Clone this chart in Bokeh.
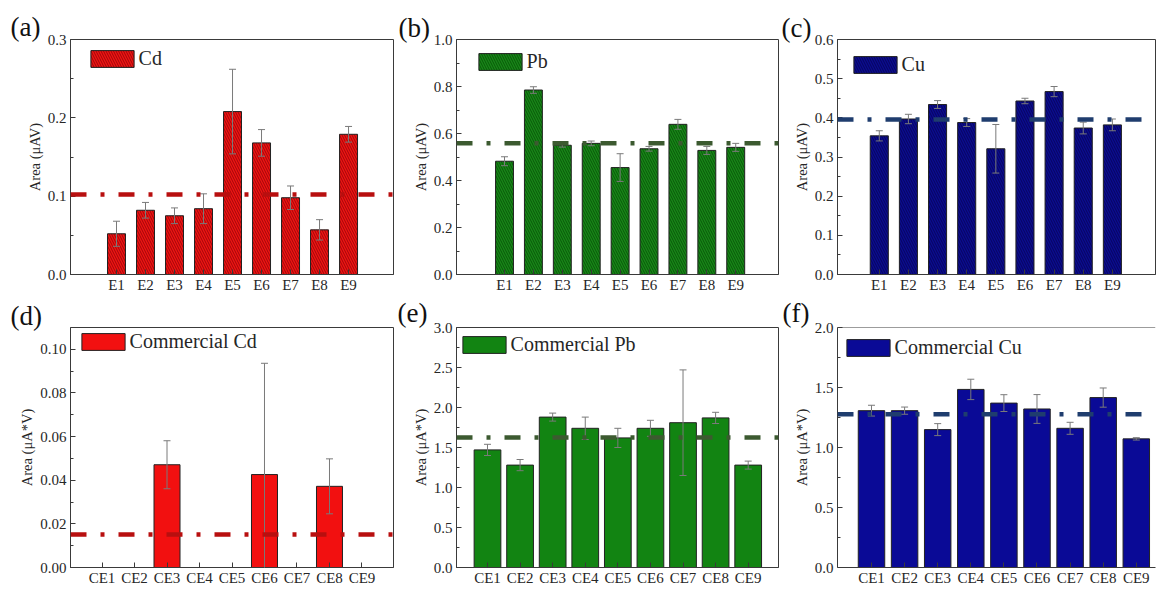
from bokeh.plotting import figure
from bokeh.models import (ColumnDataSource, Whisker, TeeHead, Span, Legend, LegendItem,
                          FixedTicker, NumeralTickFormatter, Range1d)
from bokeh.layouts import row, column
from bokeh.embed import file_html
from bokeh.resources import INLINE

# ---------------- data ----------------
e_cats = ["E1", "E2", "E3", "E4", "E5", "E6", "E7", "E8", "E9"]
ce_cats = ["CE1", "CE2", "CE3", "CE4", "CE5", "CE6", "CE7", "CE8", "CE9"]

cd_vals = [0.052, 0.082, 0.075, 0.084, 0.208, 0.168, 0.098, 0.057, 0.179]
cd_err = [0.016, 0.010, 0.010, 0.019, 0.054, 0.017, 0.015, 0.013, 0.010]
cd_mean = 0.102

pb_vals = [0.482, 0.785, 0.550, 0.558, 0.455, 0.535, 0.639, 0.528, 0.541]
pb_err = [0.019, 0.014, 0.008, 0.010, 0.059, 0.010, 0.021, 0.017, 0.017]
pb_mean = 0.559

cu_vals = [0.354, 0.397, 0.434, 0.388, 0.321, 0.443, 0.467, 0.374, 0.382]
cu_err = [0.013, 0.012, 0.010, 0.010, 0.062, 0.007, 0.013, 0.015, 0.015]
cu_mean = 0.396

ccd_vals = [0.0, 0.0, 0.0471, 0.0, 0.0, 0.0426, 0.0, 0.0372, 0.0]
ccd_err = [0.0, 0.0, 0.0110, 0.0, 0.0, 0.0510, 0.0, 0.0126, 0.0]
ccd_mean = 0.0151

cpb_vals = [1.47, 1.28, 1.88, 1.74, 1.62, 1.74, 1.81, 1.87, 1.28]
cpb_err = [0.07, 0.07, 0.05, 0.14, 0.12, 0.10, 0.66, 0.07, 0.05]
cpb_mean = 1.625

ccu_vals = [1.307, 1.307, 1.149, 1.484, 1.370, 1.321, 1.160, 1.416, 1.072]
ccu_err = [0.045, 0.030, 0.050, 0.085, 0.070, 0.120, 0.050, 0.080, 0.010]
ccu_mean = 1.277

y_ticks_a = [0.0, 0.1, 0.2, 0.3]
y_ticks_b = [0.0, 0.2, 0.4, 0.6, 0.8, 1.0]
y_ticks_c = [0.0, 0.1, 0.2, 0.3, 0.4, 0.5, 0.6]
y_ticks_d = [0.0, 0.02, 0.04, 0.06, 0.08, 0.10]
y_ticks_e = [0.0, 0.5, 1.0, 1.5, 2.0, 2.5, 3.0]
y_ticks_f = [0.0, 0.5, 1.0, 1.5, 2.0]

FONT = "Liberation Serif"
AXC = "#3a3a3a"
TXT = "#262626"

# layout geometry (columns / rows share frame edges)
COLS = [(396, 70, 3), (383, 60, 1), (377, 58, 1)]     # width, left border, right border
ROWS = [(296, 39, 22), (293, 31, 22)]                 # height, top border, bottom border


def panel(letter, cats, vals, errs, mean, name, ylabel, yticks, yfmt, col, rw,
          xr, yr, fill, line_c, hatch, bar_w, leg_off, let_off, let_stand, outline=True):
    width, bl, br = COLS[col]
    height, bt, bb = ROWS[rw]
    p = figure(width=width, height=height, output_backend="svg", toolbar_location=None,
               x_range=Range1d(*xr), y_range=Range1d(*yr))
    p.min_border_left = bl
    p.min_border_right = br
    p.min_border_top = bt
    p.min_border_bottom = bb
    p.grid.visible = False
    p.background_fill_color = "white"
    p.border_fill_color = "white"
    p.outline_line_color = AXC if outline else None
    p.outline_line_width = 1

    # panel letter as left-aligned title pushed into the left border
    p.title.text = letter
    p.title.align = "left"
    p.title.offset = let_off
    p.title.standoff = let_stand
    p.title.text_font = FONT
    p.title.text_font_size = "27px"
    p.title.text_font_style = "normal"
    p.title.text_color = "#111111"

    xs = list(range(1, len(cats) + 1))
    src = ColumnDataSource(dict(x=xs, top=vals))
    kw = dict(fill_color=fill, line_color="#222222", line_width=1)
    if hatch:
        kw.update(hatch_pattern="left_diagonal_line", hatch_color=hatch,
                  hatch_alpha=0.6, hatch_scale=5, hatch_weight=1)
    r = p.vbar(x="x", top="top", bottom=0, width=bar_w, source=src, **kw)

    wx = [x for x, e in zip(xs, errs) if e > 0]
    wu = [v + e for v, e in zip(vals, errs) if e > 0]
    wl = [v - e for v, e in zip(vals, errs) if e > 0]
    wsrc = ColumnDataSource(dict(x=wx, upper=wu, lower=wl))
    wcol = "#7a7a7a"
    w = Whisker(base="x", upper="upper", lower="lower", source=wsrc, level="annotation",
                line_color=wcol, line_width=1,
                upper_head=TeeHead(size=7, line_color=wcol, line_width=1),
                lower_head=TeeHead(size=7, line_color=wcol, line_width=1))
    p.add_layout(w)

    p.add_layout(Span(location=mean, dimension="width", line_color=line_c,
                      line_width=4.5, line_dash="16 14 4 14"))
    if not outline:
        p.add_layout(Span(location=yr[1], dimension="width", line_color=AXC, line_width=1))

    # x axis
    xa = p.xaxis[0]
    xa.ticker = FixedTicker(ticks=xs)
    xa.major_label_overrides = {x: c for x, c in zip(xs, cats)}
    xa.major_tick_in = 5
    xa.major_tick_out = 0
    xa.axis_line_color = AXC
    xa.major_tick_line_color = AXC
    xa.major_label_text_font = FONT
    xa.major_label_text_font_size = "15px"
    xa.major_label_text_color = TXT
    xa.major_label_standoff = 2
    xa.axis_label_standoff = 0

    # y axis
    minor = []
    for a, b in zip(yticks[:-1], yticks[1:]):
        minor.append((a + b) / 2)
    ya = p.yaxis[0]
    ya.ticker = FixedTicker(ticks=yticks, minor_ticks=minor)
    ya.formatter = NumeralTickFormatter(format=yfmt)
    ya.major_tick_in = 5
    ya.major_tick_out = 0
    ya.minor_tick_in = 3
    ya.minor_tick_out = 0
    ya.axis_line_color = AXC
    ya.major_tick_line_color = AXC
    ya.minor_tick_line_color = AXC
    ya.major_label_text_font = FONT
    ya.major_label_text_font_size = "15px"
    ya.major_label_text_color = TXT
    ya.major_label_standoff = 4
    ya.axis_label = ylabel
    ya.axis_label_text_font = FONT
    ya.axis_label_text_font_size = "14.5px"
    ya.axis_label_text_font_style = "normal"
    ya.axis_label_text_color = TXT
    ya.axis_label_standoff = 2

    fh = height - bt - bb
    gw, gh, lh = 54, 21, 22
    leg = Legend(items=[LegendItem(label=name, renderers=[r])],
                 location=(leg_off[0] - 0.1 * gw, fh - (leg_off[1] - 0.1 * gh) - lh),
                 padding=0, margin=0, spacing=0, glyph_width=gw, glyph_height=gh,
                 label_height=gh, label_standoff=0, label_text_font=FONT,
                 label_text_font_size="20px", label_text_color=TXT,
                 border_line_color=None, background_fill_alpha=0)
    p.add_layout(leg)
    return p


RED, RED_L, RED_H = "#ee1414", "#b80f0f", "#6e0000"
GRN, GRN_L, GRN_H = "#188618", "#3c5a30", "#003800"
BLU, BLU_L, BLU_H = "#0c0c8e", "#1f3d6e", "#000040"

pa = panel("(a)", e_cats, cd_vals, cd_err, cd_mean, "Cd", "Area (\u03bcAV)", y_ticks_a, "0.0",
           0, 0, (-0.586, 10.55), (0, 0.3), RED, RED_L, RED_H, 0.62, (20, 11), -60, -4)
pb = panel("(b)", e_cats, pb_vals, pb_err, pb_mean, "Pb", "Area (\u03bcAV)", y_ticks_b, "0.0",
           1, 0, (-0.661, 10.48), (0, 1.0), GRN, GRN_L, GRN_H, 0.62, (22, 14), -58, -7)
pc = panel("(c)", e_cats, cu_vals, cu_err, cu_mean, "Cu", "Area (\u03bcAV)", y_ticks_c, "0.0",
           2, 0, (-0.434, 10.48), (0, 0.6), BLU, BLU_L, BLU_H, 0.62, (16, 17), -56, -7)
pd_ = panel("(d)", ce_cats, ccd_vals, ccd_err, ccd_mean, "Commercial Cd", "Area (\u03bcA*V)",
            y_ticks_d, "0.00", 0, 1, (0.03, 9.97), (0, 0.11), "#f21010", RED_L, None, 0.8,
            (11, 6), -60, -6)
pe = panel("(e)", ce_cats, cpb_vals, cpb_err, cpb_mean, "Commercial Pb", "Area (\u03bcA*V)",
           y_ticks_e, "0.0", 1, 1, (0.049, 9.93), (0, 3.0), "#128412", GRN_L, None, 0.82,
           (6, 9), -59, -1)
pf = panel("(f)", ce_cats, ccu_vals, ccu_err, ccu_mean, "Commercial Cu", "Area (\u03bcA*V)",
           y_ticks_f, "0.0", 2, 1, (-0.027, 9.58), (0, 2.0), "#0a0a96", BLU_L, None, 0.8,
           (9, 12), -55, -1, outline=False)

layout = column(row(pa, pb, pc), row(pd_, pe, pf))

open("out.html", "w").write(file_html(layout, INLINE))
